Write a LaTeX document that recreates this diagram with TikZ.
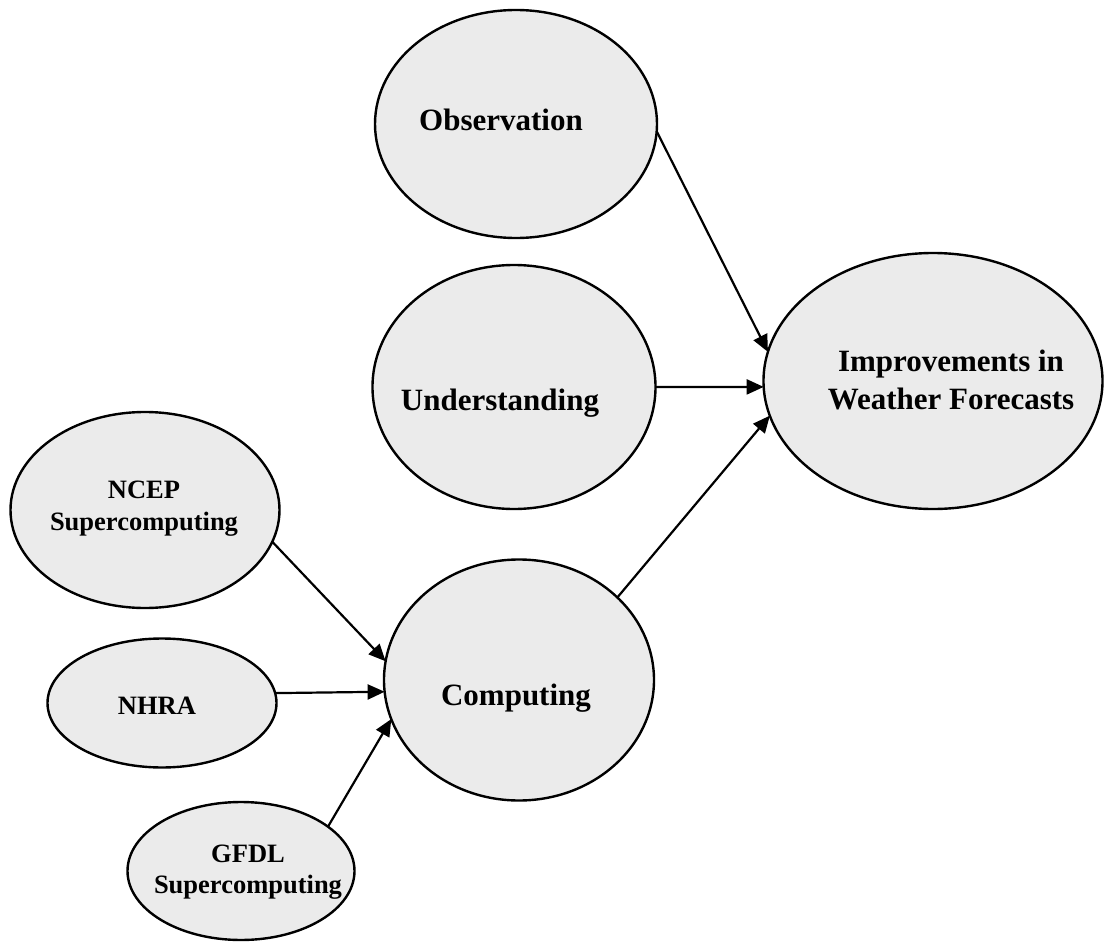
\documentclass[tikz,border=0pt]{standalone}
\usepackage{fontspec}
\setmainfont{Liberation Serif}
\usetikzlibrary{arrows.meta,shapes.geometric}
\begin{document}
\begin{tikzpicture}[x=1pt,y=-1pt,
  blob/.style={ellipse, draw=black, line width=2.4pt, fill=black!8, inner sep=0pt, outer sep=0pt},
  bigtxt/.style={anchor=base, font=\bfseries\fontsize{31}{38}\selectfont, inner sep=0pt},
  smalltxt/.style={anchor=base, font=\bfseries\fontsize{26.5}{32}\selectfont, inner sep=0pt},
  link/.style={line width=2.2pt, -{Triangle[length=17pt,width=15pt]}}]
\useasboundingbox (0,0) rectangle (1104,942);

% ellipses
\node[blob, minimum width=282pt, minimum height=228pt] (obs)  at (516,124) {};
\node[blob, minimum width=283pt, minimum height=244pt] (und)  at (514,387) {};
\node[blob, minimum width=339pt, minimum height=256pt] (imp)  at (933,381) {};
\node[blob, minimum width=270pt, minimum height=241pt] (comp) at (519,680) {};
\node[blob, minimum width=269pt, minimum height=196pt] (ncep) at (145,510) {};
\node[blob, minimum width=229pt, minimum height=129pt] (nhra) at (162,703) {};
\node[blob, minimum width=227pt, minimum height=138pt] (gfdl) at (241,871) {};

% labels
\node[bigtxt] (obs-t)  at (501,130) {Observation};
\node[bigtxt] (und-t)  at (500,410) {Understanding};
\node[bigtxt] (imp-t1) at (951,371) {Improvements in};
\node[bigtxt] (imp-t2) at (951,409) {Weather Forecasts};
\node[bigtxt] (comp-t) at (516,705) {Computing};
\node[smalltxt] (ncep-t1) at (144,498) {NCEP};
\node[smalltxt] (ncep-t2) at (144,530) {Supercomputing};
\node[smalltxt] (nhra-t)  at (157,714) {NHRA};
\node[smalltxt] (gfdl-t1) at (248,862) {GFDL};
\node[smalltxt] (gfdl-t2) at (248,893) {Supercomputing};

% connectors
\draw[link] (obs.-3.6) -- (imp.170.6);
\draw[link] (und.0) -- (imp.182);
\draw[link] (comp.40) -- (imp.192);
\draw[link] (ncep.-14.9) -- (comp.172.6);
\draw[link] (nhra.5) -- (comp.185);
\draw[link] (gfdl.27.3) -- (comp.197.5);
\end{tikzpicture}
\end{document}
